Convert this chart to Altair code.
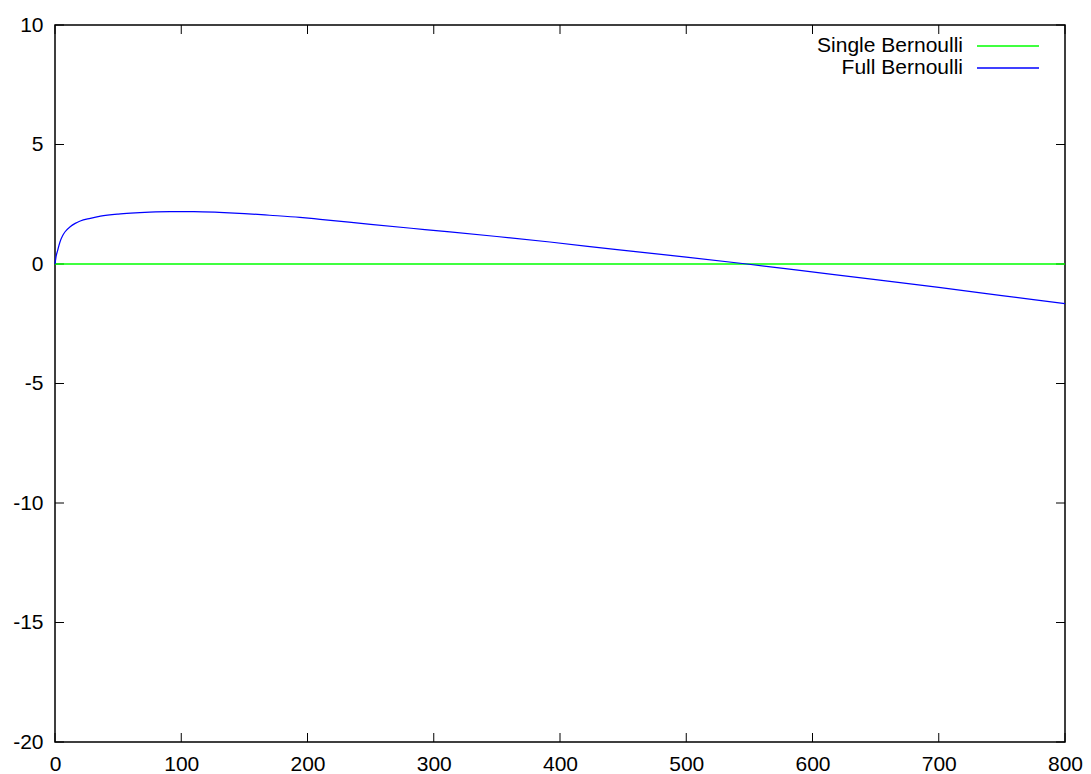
import altair as alt
import pandas as pd

# Series values
full_x = [0, 1, 2, 4, 6, 8, 12, 16, 20, 28, 36, 50, 60, 75, 91, 110, 130, 150,
          170, 194, 210, 250, 293, 350, 392, 447, 500, 548, 590, 650, 700, 750, 800]
full_y = [0.0, 0.35, 0.55, 0.93, 1.18, 1.35, 1.56, 1.70, 1.80, 1.91, 2.00, 2.09,
          2.13, 2.17, 2.19, 2.19, 2.16, 2.11, 2.04, 1.95, 1.87, 1.66, 1.44, 1.15,
          0.92, 0.59, 0.29, 0.0, -0.27, -0.65, -0.98, -1.32, -1.66]
single_x = [0, 800]
single_y = [0.0, 0.0]

series_names = ["Single Bernoulli", "Full Bernoulli"]
series_colors = ["#00ff00", "#0000ff"]

x_ticks = [0, 100, 200, 300, 400, 500, 600, 700, 800]
y_ticks = [-20, -15, -10, -5, 0, 5, 10]

W, H = 1010, 717
FONT = "Liberation Sans"
FS = 21
TICK = 9

full_df = pd.DataFrame({"x": full_x, "y": full_y})
single_df = pd.DataFrame({"x": single_x, "y": single_y})
xt_df = pd.DataFrame({"x": x_ticks})
yt_df = pd.DataFrame({"y": y_ticks})

xs = alt.Scale(domain=[0, 800], nice=False, zero=False)
ys = alt.Scale(domain=[-20, 10], nice=False, zero=False)

x_axis = alt.Axis(values=x_ticks, ticks=False, domain=False, grid=False,
                  labelFont=FONT, labelFontSize=FS, labelColor="black",
                  labelPadding=11, title=None, labelFlush=False,
                  labelExpr="datum.value + ''")
y_axis = alt.Axis(values=y_ticks, ticks=False, domain=False, grid=False,
                  labelFont=FONT, labelFontSize=FS, labelColor="black",
                  labelPadding=12, title=None, labelFlush=False,
                  labelExpr="datum.value + ''")

# Inward ticks on all four sides of the frame
bottom_ticks = alt.Chart(xt_df).mark_rule(color="black", strokeWidth=1).encode(
    x=alt.X("x:Q", scale=xs, axis=x_axis),
    y=alt.value(H), y2=alt.value(H - TICK))
top_ticks = alt.Chart(xt_df).mark_rule(color="black", strokeWidth=1).encode(
    x=alt.X("x:Q", scale=xs), y=alt.value(0), y2=alt.value(TICK))
left_ticks = alt.Chart(yt_df).mark_rule(color="black", strokeWidth=1).encode(
    y=alt.Y("y:Q", scale=ys, axis=y_axis),
    x=alt.value(0), x2=alt.value(TICK))
right_ticks = alt.Chart(yt_df).mark_rule(color="black", strokeWidth=1).encode(
    y=alt.Y("y:Q", scale=ys), x=alt.value(W), x2=alt.value(W - TICK))

single_line = alt.Chart(single_df).mark_line(
    color=series_colors[0], strokeWidth=1.5).encode(
    x=alt.X("x:Q", scale=xs), y=alt.Y("y:Q", scale=ys))
full_line = alt.Chart(full_df).mark_line(
    color=series_colors[1], strokeWidth=1.2, interpolate="monotone").encode(
    x=alt.X("x:Q", scale=xs), y=alt.Y("y:Q", scale=ys))

# Key in the upper right: label followed by a line sample
key_layers = []
for i, (name, col) in enumerate(zip(series_names, series_colors)):
    ky = 21 + 22 * i
    kdf = pd.DataFrame({"name": [name]})
    key_layers.append(
        alt.Chart(kdf).mark_text(align="right", baseline="middle", font=FONT,
                                 fontSize=FS, color="black").encode(
            text="name:N", x=alt.value(908), y=alt.value(ky)))
    key_layers.append(
        alt.Chart(kdf).mark_rule(color=col, strokeWidth=1.3).encode(
            x=alt.value(922), x2=alt.value(984), y=alt.value(ky)))

chart = alt.layer(
    bottom_ticks, top_ticks, left_ticks, right_ticks,
    single_line, full_line, *key_layers
).properties(
    width=W, height=H,
    autosize=alt.AutoSizeParams(type="none"),
    padding={"left": 55, "top": 25, "right": 26, "bottom": 32},
    background="white",
).configure_view(stroke="black", strokeWidth=1.5)

chart.save("out.html", embed_options={"renderer": "svg", "actions": False})
